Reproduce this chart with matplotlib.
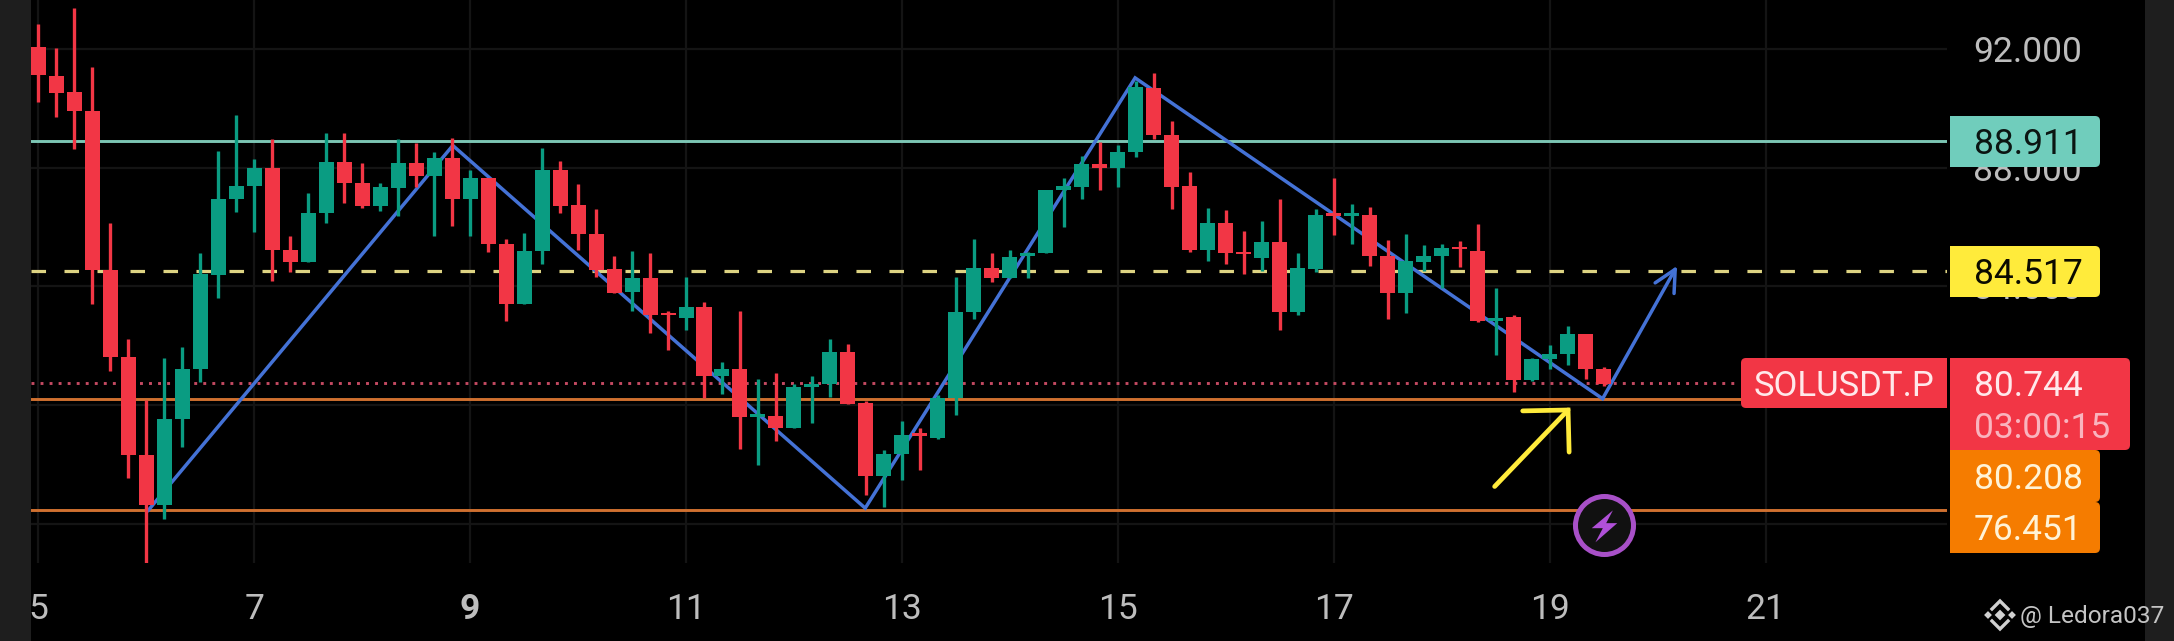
import matplotlib
matplotlib.use("Agg")
import matplotlib.pyplot as plt
from matplotlib.patches import FancyBboxPatch, Rectangle
import numpy as np

plt.rcParams['font.family'] = ['Roboto', 'DejaVu Sans']

# 4h candles, six per day starting on day 5
opens = [92.08, 91.10, 90.54, 89.92, 84.54, 81.63, 78.30, 76.64, 79.51, 81.22, 84.39, 86.95, 87.39, 88.00, 85.24,
         84.83, 86.48, 88.21, 87.49, 86.72, 87.33, 88.17, 87.73, 88.33, 86.93, 87.64, 85.44, 83.41, 85.20, 87.92,
         86.73, 85.78, 84.58, 83.80, 84.27, 83.11, 82.93, 83.30, 80.96, 81.21, 79.61, 79.63, 79.23, 80.59, 80.72,
         81.80, 80.06, 77.59, 78.35, 79.04, 78.89, 80.24, 83.14, 84.61, 84.28, 85.01, 85.13, 87.24, 87.35, 88.14,
         88.00, 88.54, 90.70, 89.12, 87.37, 85.24, 86.13, 85.15, 84.97, 85.48, 83.14, 84.58, 86.47, 86.37, 86.42,
         85.02, 83.76, 84.83, 85.02, 85.34, 85.20, 82.82, 82.96, 80.85, 81.56, 81.73, 82.38, 81.21]
highs = [92.85, 92.05, 93.40, 91.41, 86.15, 82.24, 80.17, 81.58, 81.96, 85.11, 88.58, 89.79, 88.30, 88.97, 85.69,
         87.16, 89.16, 89.16, 88.17, 87.48, 88.97, 88.83, 88.54, 88.99, 87.92, 87.66, 85.58, 85.80, 88.65, 88.24,
         87.44, 86.62, 85.04, 85.20, 85.13, 83.18, 84.33, 83.48, 81.44, 83.16, 80.86, 81.07, 80.72, 80.97, 82.21,
         82.07, 80.14, 78.48, 79.45, 79.21, 80.34, 84.31, 85.58, 85.13, 85.24, 85.16, 87.26, 87.67, 88.41, 88.88,
         88.77, 90.92, 91.20, 89.59, 87.84, 86.65, 86.59, 85.85, 86.22, 86.93, 85.11, 86.62, 87.67, 86.76, 86.69,
         85.55, 85.75, 85.41, 85.44, 85.52, 86.10, 83.96, 83.04, 81.59, 82.02, 82.65, 82.38, 81.27]
lows = [90.23, 89.71, 88.62, 83.41, 81.14, 77.53, 74.66, 76.17, 78.59, 80.79, 83.62, 86.51, 85.82, 84.17, 84.47,
        84.83, 86.14, 86.82, 86.65, 86.54, 86.37, 87.34, 85.71, 86.03, 85.71, 85.16, 82.83, 83.41, 84.76, 86.48,
        85.24, 84.31, 83.76, 83.18, 82.42, 81.85, 82.54, 80.24, 80.38, 78.52, 77.97, 78.77, 79.23, 79.40, 80.28,
        80.03, 76.97, 76.55, 77.48, 77.80, 78.85, 79.66, 82.90, 84.13, 84.28, 84.28, 85.13, 86.00, 86.95, 87.24,
        87.34, 88.37, 88.97, 86.61, 85.16, 84.86, 84.75, 84.42, 84.51, 82.54, 83.04, 84.47, 85.73, 85.44, 84.69,
        82.90, 83.11, 84.51, 83.96, 84.65, 82.79, 81.69, 80.45, 80.82, 81.21, 81.34, 80.86, 80.65]
closes = [91.12, 90.52, 89.92, 84.54, 81.62, 78.30, 76.64, 79.51, 81.22, 84.40, 86.95, 87.39, 88.00, 85.24, 84.83,
          86.48, 88.21, 87.49, 86.72, 87.34, 88.17, 87.73, 88.33, 86.93, 87.64, 85.44, 83.41, 85.20, 87.92, 86.72,
          85.77, 84.54, 83.78, 84.27, 83.04, 83.03, 83.30, 80.96, 81.21, 79.61, 79.69, 79.23, 80.59, 80.72, 81.80,
          80.03, 77.59, 78.35, 79.00, 78.96, 80.24, 83.15, 84.61, 84.29, 85.00, 85.12, 87.24, 87.37, 88.14, 88.00,
          88.54, 90.72, 89.09, 87.35, 85.24, 86.13, 85.11, 85.08, 85.48, 83.14, 84.61, 86.40, 86.37, 86.47, 85.02,
          83.76, 84.84, 85.04, 85.29, 85.26, 82.82, 82.94, 80.85, 81.56, 81.72, 82.38, 81.21, 80.72]

day_ticks = [5, 7, 9, 11, 13, 15, 17, 19, 21]
price_ticks = [92, 88, 84, 80, 76]

resistance = 88.911
target = 84.517
last_price = 80.744
support_1 = 80.208
support_2 = 76.451

# drawn zigzag and the hand drawn yellow arrow
zig_days = [6.02, 8.84, 12.66, 15.16, 19.49]
zig_prices = [76.45, 88.75, 76.52, 91.03, 80.21]
zig_tip = (20.18, 84.69)
yellow_days = [18.49, 19.17]
yellow_prices = [77.25, 79.83]
yellow_head_days = [18.75, 19.17, 19.18]
yellow_head_prices = [79.80, 79.83, 78.41]
flash_day, flash_price = 19.50, 75.96

RED = '#F23645'
GREEN = '#0A9C82'
BLUE = '#4472D6'
W, H = 2174, 641

fig = plt.figure(figsize=(W / 100, H / 100), dpi=100, facecolor='black')
ax = fig.add_axes([31 / W, (H - 564 + 0.7) / H, 1916 / W, 564 / H], facecolor='black')

days = 5 + np.arange(len(opens)) / 6
o = np.array(opens)
c = np.array(closes)
colors = [GREEN if b >= a else RED for a, b in zip(o, c)]

ax.set_axisbelow(True)
ax.grid(True, color='#141414', lw=1.6)

ax.axhline(resistance, color='#7CC6B4', lw=2.1, zorder=2)
ax.axhline(target, color='#DDD382', lw=2.3, dashes=(4.55, 5.78), zorder=2)
ax.axhline(support_1, color='#CF7030', lw=2.1, zorder=2)
ax.axhline(support_2, color='#CF7030', lw=2.1, zorder=2)
ax.plot([4.933, 20.71], [last_price, last_price], color='#C44A62', lw=2.1, dashes=(1, 2.1), zorder=2)

ax.plot(zig_days, zig_prices, color=BLUE, lw=2.5, zorder=3, solid_joinstyle='miter')
ax.annotate('', xy=zig_tip, xytext=(zig_days[-1], zig_prices[-1]),
            arrowprops=dict(arrowstyle='->,head_length=0.6,head_width=0.3', color=BLUE, lw=2.5,
                            shrinkA=0, shrinkB=0, mutation_scale=26), zorder=3)

# candles sit on top of the drawings
ax.vlines(days, lows, highs, colors=colors, lw=2.4, zorder=4)
ax.bar(days, np.abs(c - o), bottom=np.minimum(o, c), width=0.139, color=colors, zorder=5)

ax.plot(yellow_days, yellow_prices, color='#FFEB3B', lw=3.4, solid_capstyle='round', zorder=6)
ax.plot(yellow_head_days, yellow_head_prices, color='#FFEB3B', lw=3.4, solid_capstyle='round',
        solid_joinstyle='miter', zorder=6)

bolt = [(25, 45), (-38, -8), (-5, -8), (-27, -50), (38, 7), (5, 7)]
ax.scatter([flash_day], [flash_price], s=1745, facecolor='#111111', edgecolor='#A850C8', lw=3.6, zorder=6)
ax.scatter([flash_day], [flash_price], s=586, marker=bolt, color='#B050D8', lw=0, zorder=7)

ax.set_xlim(4.933, 22.68)
ax.set_ylim(74.66, 93.68)
ax.set_xticks(day_ticks)
ax.set_xticklabels([str(d) for d in day_ticks])
ax.set_yticks(price_ticks)
ax.set_yticklabels(['%.3f' % p for p in price_ticks])
ax.yaxis.tick_right()
ax.tick_params(axis='x', length=0, pad=21.5, labelsize=25.5, labelcolor='#BDBDBD')
ax.tick_params(axis='y', length=0, pad=19, labelsize=25.5, labelcolor='#BDBDBD')
ax.get_xticklabels()[2].set_fontweight('bold')
for s in ax.spines.values():
    s.set_visible(False)

# price tags, in picture pixels
top = fig.add_axes([0, 0, 1, 1], facecolor='none')
top.set_xlim(0, W)
top.set_ylim(H, 0)
top.axis('off')


def tag(x0, x1, y0, y1, col):
    top.add_patch(FancyBboxPatch((x0 + 5, y0 + 2), x1 - x0 - 7, y1 - y0 - 4, boxstyle='round,pad=2,rounding_size=5',
                                 fc=col, ec='none', zorder=2))
    top.add_patch(Rectangle((x0, y0), 12, y1 - y0, fc=col, ec='none', zorder=2))


top.add_patch(Rectangle((0, 0), 31, H, fc='#1E1E1E', ec='none'))
top.add_patch(Rectangle((2145, 0), 29, H, fc='#1E1E1E', ec='none'))

tag(1950, 2100, 116, 167, '#70CDBC')
tag(1950, 2100, 246, 297, '#FFEB3B')
tag(1950, 2100, 450, 502, '#F57C00')
tag(1950, 2100, 502, 553, '#F57C00')
tag(1950, 2130, 358, 450, RED)
top.add_patch(FancyBboxPatch((1743, 360), 210, 46, boxstyle='round,pad=2,rounding_size=5', fc=RED, ec='none', zorder=2))
top.add_patch(Rectangle((1947, 355), 3, 60, fc='black', ec='none', zorder=3))

tkw = dict(fontsize=25.5, va='center_baseline', ha='left', zorder=4)
top.text(1974, 141, '%.3f' % resistance, color='#0B1512', **tkw)
top.text(1974, 271, '%.3f' % target, color='#0B0B00', **tkw)
top.text(1974, 383, '%.3f' % last_price, color='#FFE8EA', **tkw)
top.text(1974, 425, '03:00:15', color='#F9B4BE', **tkw)
top.text(1974, 476, '%.3f' % support_1, color='#FFF3D6', **tkw)
top.text(1974, 527, '%.3f' % support_2, color='#FFF3D6', **tkw)
top.text(1754, 383, 'SOLUSDT.P', color='#FFE8EA', fontsize=25, va='center_baseline', ha='left', zorder=4)

# watermark with the little diamond logo
logo = '#D0D0D0'
top.plot([1992, 2000, 2008], [609, 601, 609], color=logo, lw=2.4, solid_joinstyle='miter')
top.plot([1992, 2000, 2008], [621, 629, 621], color=logo, lw=2.4, solid_joinstyle='miter')
top.scatter([1988, 2012, 2000], [615, 615, 615], s=[16, 16, 30], marker='D', color=logo, lw=0)
top.text(2020, 614, '@ Ledora037', color='#C4C4C4', fontsize=17.6, va='center_baseline', ha='left', zorder=4)

fig.savefig('out.png', dpi=100, facecolor='black')
